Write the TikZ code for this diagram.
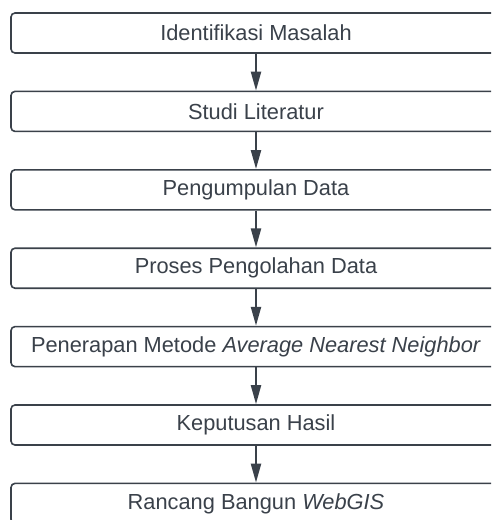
\documentclass[tikz,border=0pt]{standalone}
\usepackage{fontspec}
\setmainfont{Liberation Sans}
\usetikzlibrary{arrows.meta}
\definecolor{ink}{HTML}{3A414A}
\begin{document}
\begin{tikzpicture}[x=1pt,y=-1pt,
  stepbox/.style={draw=ink, line width=1.6pt, rounded corners=4pt, fill=white,
    minimum width=490pt, minimum height=40pt, inner sep=0pt,
    text=ink, font=\fontsize{21.8}{25}\selectfont},
  flow/.style={draw=ink, line width=2.2pt, -{Triangle[length=19pt,width=10pt]}}]
\useasboundingbox (0,0) rectangle (491,520);
\clip (0,0) rectangle (491,520);
\fill[white] (0,0) rectangle (491,520);
\node[stepbox] (s1) at (256,33) {Identifikasi Masalah};
\node[stepbox] (s2) at (256,111.4) {Studi Literatur};
\node[stepbox] (s3) at (256,189.8) {Pengumpulan Data};
\node[stepbox] (s4) at (256,268.2) {Proses Pengolahan Data};
\node[stepbox] (s5) at (256,346.6) {Penerapan Metode \textit{Average Nearest Neighbor}};
\node[stepbox] (s6) at (256,425) {Keputusan Hasil};
\node[stepbox] (s7) at (256,503.4) {Rancang Bangun \textit{WebGIS}};
\draw[flow] (s1) -- (s2);
\draw[flow] (s2) -- (s3);
\draw[flow] (s3) -- (s4);
\draw[flow] (s4) -- (s5);
\draw[flow] (s5) -- (s6);
\draw[flow] (s6) -- (s7);
\end{tikzpicture}
\end{document}
